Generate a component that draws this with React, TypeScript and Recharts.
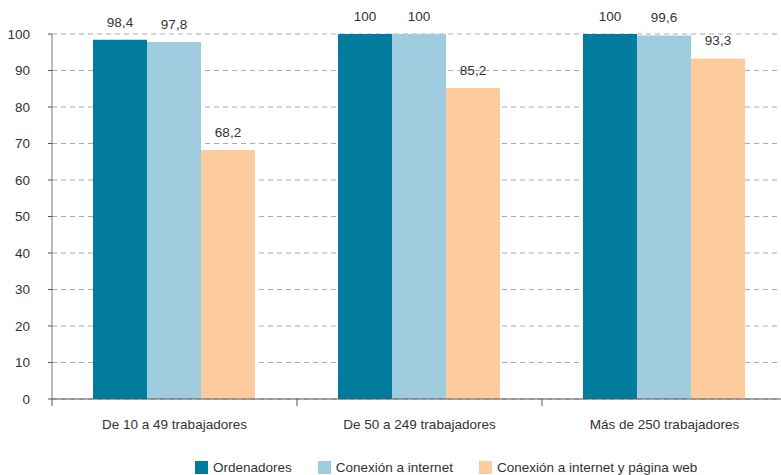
import React from 'react';
import { BarChart, Bar, XAxis, YAxis, CartesianGrid, Legend, LabelList } from 'recharts';

// Categories and series (percent of companies)
const categories = ['De 10 a 49 trabajadores', 'De 50 a 249 trabajadores', 'Más de 250 trabajadores'];
const ordenadores = [98.4, 100, 100];
const conexion = [97.8, 100, 99.6];
const conexionWeb = [68.2, 85.2, 93.3];
const yTicks = [0, 10, 20, 30, 40, 50, 60, 70, 80, 90, 100];

const data = categories.map((name, i) => ({
  name,
  ordenadores: ordenadores[i],
  conexion: conexion[i],
  conexionWeb: conexionWeb[i],
}));

const series = [
  { key: 'ordenadores', label: 'Ordenadores', color: '#017c9d' },
  { key: 'conexion', label: 'Conexión a internet', color: '#9fcddf' },
  { key: 'conexionWeb', label: 'Conexión a internet y página web', color: '#fdcb9c' },
];

const FONT = '"Liberation Sans", Arial, sans-serif';
const FS = 13.5;
const fmt = (v: number) => String(v).replace('.', ',');

const CategoryTick = (props: any) => {
  const { x, y, payload } = props;
  const half = 245 / 2;
  return (
    <g>
      <line x1={x - half} y1={y - 8} x2={x - half} y2={y - 1} stroke="#555" strokeWidth={1} />
      <text x={x} y={y + 22} textAnchor="middle" fontSize={FS} fill="#333" fontFamily={FONT}>
        {payload.value}
      </text>
    </g>
  );
};

const LegendContent = () => (
  <div style={{ display: 'flex', alignItems: 'center', marginLeft: 195, paddingTop: 21, fontFamily: FONT, fontSize: FS, color: '#333' }}>
    {series.map((s) => (
      <div key={s.key} style={{ display: 'flex', alignItems: 'center', marginRight: 26 }}>
        <span style={{ width: 13, height: 13, background: s.color, display: 'inline-block', marginRight: 5 }} />
        <span>{s.label}</span>
      </div>
    ))}
  </div>
);

const App: React.FC = () => {
  return (
    <div style={{ position: 'absolute', left: 0, top: 0, width: 781, height: 475, overflow: 'hidden', background: '#fff' }}>
      <BarChart
        width={787}
        height={475}
        data={data}
        margin={{ top: 34, right: 0, left: 0, bottom: 0 }}
        barCategoryGap={41}
        barGap={0}
      >
        <CartesianGrid vertical={false} stroke="#aaa" strokeDasharray="5 4" />
        <XAxis
          dataKey="name"
          height={40}
          axisLine={{ stroke: '#555' }}
          tickLine={false}
          tick={<CategoryTick />}
          interval={0}
        />
        <YAxis
          width={52}
          domain={[0, 100]}
          ticks={yTicks}
          axisLine={{ stroke: '#777' }}
          tickLine={{ stroke: '#555' }}
          tickSize={4}
          tickMargin={18}
          tick={{ fontSize: FS, fill: '#333', fontFamily: FONT }}
        />
        <Legend verticalAlign="bottom" height={36} content={<LegendContent />} />
        {series.map((s) => (
          <Bar key={s.key} dataKey={s.key} name={s.label} fill={s.color} isAnimationActive={false}>
            <LabelList
              dataKey={s.key}
              position="top"
              offset={13}
              formatter={(v: any) => fmt(v)}
              style={{ fontSize: FS, fill: '#333', fontFamily: FONT }}
            />
          </Bar>
        ))}
      </BarChart>
    </div>
  );
};

export default App;
